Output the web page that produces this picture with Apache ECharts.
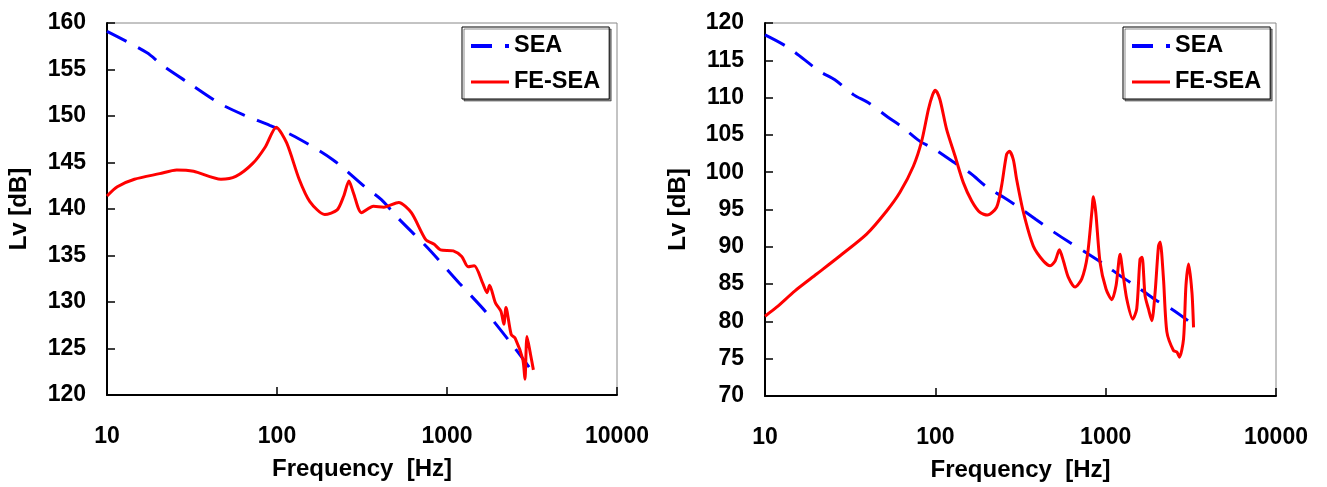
<html lang="en">
<head>
<meta charset="UTF-8" />
<script src="https://cdn.jsdelivr.net/npm/echarts@6/dist/echarts.min.js"></script>
<title>Lv vs frequency</title>
<style>
  * { padding: 0; margin: 0; }
  body { background: #fff; }
</style>
</head>
<body>
<div id="main" style="width:1327px;height:487px"></div>
<script>
// left panel
var seaFreqL = [10, 17.2, 21, 30.5, 45.5, 64, 90.6, 127, 213, 328, 411, 517, 771, 1186, 1718, 2490, 3130]
var seaLvL = [159.1, 156.8, 155.5, 153.5, 151.4, 150.1, 149, 147.8, 145.3, 142.4, 141, 139, 135.8, 132, 128.8, 125.1, 122.7]
var feFreqL = [10, 11.5, 14.5, 20.4, 25.7, 32.3, 46.8, 57.2, 72, 85.5, 98.9, 114, 135, 156, 191, 226, 247, 265, 282, 314, 369, 425, 520, 617, 750, 841, 916, 1089, 1221, 1330, 1447, 1624, 1721, 1780, 1927, 2076, 2160, 2223, 2386, 2520, 2794, 2874, 2955, 3090, 3222]
var feLvL = [141.4, 142.4, 143.2, 143.8, 144.2, 144.05, 143.2, 143.5, 144.9, 146.7, 148.8, 147.1, 143.2, 140.8, 139.4, 139.9, 141.4, 143, 141.7, 139.6, 140.3, 140.2, 140.7, 139.6, 136.7, 136.2, 135.6, 135.5, 134.9, 133.8, 133.9, 132, 131, 131.8, 129.9, 129, 127.6, 129.4, 126.5, 126.1, 123.8, 121.7, 126.3, 124.5, 122.7]

// right panel
var seaFreqR = [10, 13.7, 21, 25.7, 33, 40.5, 52.5, 64, 80.6, 98.4, 127, 160, 201, 253, 318, 388, 502, 613, 794, 972, 1257, 1535, 1986, 2423, 3043]
var seaLvR = [118.4, 116.7, 113.5, 112.4, 110.4, 109.3, 107.4, 106.05, 104.2, 103.1, 101.4, 99.9, 98, 96.6, 95.1, 93.7, 91.9, 90.6, 89, 87.7, 85.9, 84.6, 82.8, 81.7, 80.1]
var feFreqR = [10, 11.7, 15, 20.1, 27.6, 39.5, 51.8, 62, 74.3, 83.2, 91, 96.5, 100, 106.4, 116.6, 130.4, 146, 163.5, 183, 202, 229, 245, 262, 272, 287, 300, 329, 376, 431, 472, 505, 535, 565, 604, 661, 724, 781, 829, 847, 875, 927, 1005, 1086, 1151, 1215, 1260, 1330, 1442, 1522, 1591, 1636, 1703, 1782, 1866, 1951, 2042, 2089, 2185, 2287, 2500, 2618, 2713, 2866, 2960, 3068, 3210, 3280]
var feLvR = [80.7, 81.9, 84.1, 86.35, 88.8, 91.7, 94.8, 97.3, 100.8, 104.2, 108.4, 110.4, 111, 109.75, 105.7, 102.2, 98.6, 96.15, 94.6, 94.25, 95.3, 98.2, 102.4, 102.8, 101.7, 99.05, 94.6, 90.1, 88.1, 87.45, 88.1, 89.6, 88.1, 85.9, 84.6, 85.7, 88.8, 94.6, 96.7, 94.6, 87.9, 84.35, 82.9, 84.8, 89.0, 86.6, 83, 80.3, 81.7, 88.35, 88.6, 83.45, 81.7, 80.1, 83.9, 90.1, 90.65, 85.7, 78.6, 76.1, 75.9, 75.2, 77.65, 84.8, 87.7, 83.9, 79.2]

var FONT = "'Liberation Sans', Arial, sans-serif"
function bold(size) {
  return { color: "#000", fontWeight: "bold", fontSize: size, fontFamily: FONT }
}

function pairs(xs, ys) {
  return xs.map(function(x, i) { return [x, ys[i]] })
}

function xAxisFor(gi) {
  return {
    type: "log",
    logBase: 10,
    gridIndex: gi,
    min: 10,
    max: 10000,
    name: "Frequency  [Hz]",
    nameLocation: "middle",
    nameGap: 62,
    nameTextStyle: bold(24),
    axisLine: { show: true, onZero: false, lineStyle: { color: "#000", width: 2 } },
    axisTick: { show: true, inside: true, length: 8, lineStyle: { color: "#000", width: 1.5 } },
    minorTick: { show: false },
    splitLine: { show: false },
    axisLabel: Object.assign({ margin: 30, formatter: function(v) { return String(Math.round(v)) } }, bold(23))
  }
}

function yAxisFor(gi, min, max, gap) {
  return {
    type: "value",
    gridIndex: gi,
    min: min,
    max: max,
    interval: 5,
    name: "Lv [dB]",
    nameLocation: "middle",
    nameGap: gap,
    nameTextStyle: bold(24),
    axisLine: { show: true, lineStyle: { color: "#000", width: 2 } },
    axisTick: { show: true, inside: true, length: 8, lineStyle: { color: "#000", width: 1.5 } },
    splitLine: { show: false },
    axisLabel: Object.assign({ margin: 21 }, bold(23))
  }
}

var seaLine = { color: "#0000ff", width: 3, type: [22, 13] }
var feLine = { color: "#ff0000", width: 3 }

function legendFor(left) {
  return {
    orient: "vertical",
    left: left,
    top: 27,
    padding: [7, 9, 5, 7],
    itemGap: 12,
    itemWidth: 38,
    itemHeight: 14,
    borderColor: "#000",
    borderWidth: 1,
    backgroundColor: "#fff",
    shadowColor: "rgba(0,0,0,0.45)",
    shadowOffsetX: 2,
    shadowOffsetY: 2,
    itemStyle: { opacity: 0 },
    textStyle: Object.assign({ lineHeight: 24 }, bold(23.5)),
    data: [
      { name: "SEA", itemStyle: { opacity: 0 }, lineStyle: { color: "#0000ff", width: 4, type: [21, 13, 4, 13] } },
      { name: "FE-SEA", itemStyle: { opacity: 0 }, lineStyle: { color: "#ff0000", width: 3 } }
    ]
  }
}

var option = {
  backgroundColor: "#fff",
  animation: false,
  grid: [
    { left: 107, top: 23, width: 510, height: 372, show: true, borderColor: "#888", borderWidth: 1 },
    { left: 765, top: 23, width: 511, height: 374, show: true, borderColor: "#888", borderWidth: 1 }
  ],
  legend: [legendFor(462), legendFor(1123)],
  xAxis: [xAxisFor(0), xAxisFor(1)],
  yAxis: [yAxisFor(0, 120, 160, 76), yAxisFor(1, 70, 120, 75)],
  series: [
    { name: "SEA", type: "line", xAxisIndex: 0, yAxisIndex: 0, symbol: "none", smooth: 0.3, lineStyle: seaLine, itemStyle: { color: "#0000ff" }, data: pairs(seaFreqL, seaLvL) },
    { name: "FE-SEA", type: "line", xAxisIndex: 0, yAxisIndex: 0, symbol: "none", smooth: 0.25, lineStyle: feLine, itemStyle: { color: "#ff0000" }, data: pairs(feFreqL, feLvL) },
    { name: "SEA", type: "line", xAxisIndex: 1, yAxisIndex: 1, symbol: "none", smooth: 0.3, lineStyle: seaLine, itemStyle: { color: "#0000ff" }, data: pairs(seaFreqR, seaLvR) },
    { name: "FE-SEA", type: "line", xAxisIndex: 1, yAxisIndex: 1, symbol: "none", smooth: 0.25, lineStyle: feLine, itemStyle: { color: "#ff0000" }, data: pairs(feFreqR, feLvR) }
  ]
}

var myChart = echarts.init(document.getElementById("main"))
myChart.setOption(option)
</script>
</body>
</html>
